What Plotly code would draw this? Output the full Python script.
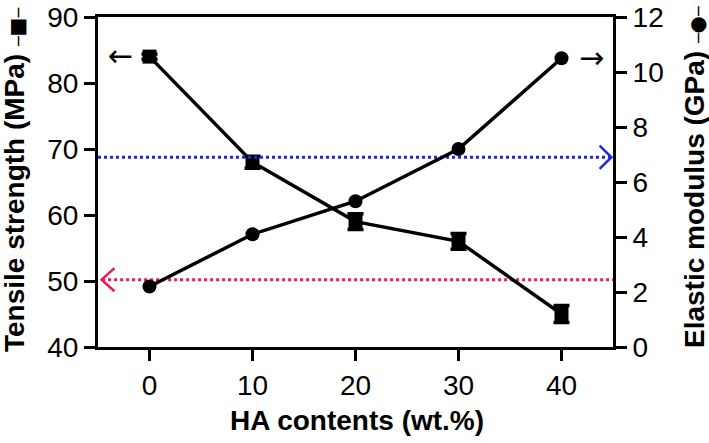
import plotly.graph_objects as go

ha_content = [0, 10, 20, 30, 40]
tensile_strength = [84, 68, 59, 56, 45]
tensile_err = [0.4, 0.9, 1.2, 1.2, 1.3]
elastic_modulus = [2.2, 4.1, 5.3, 7.2, 10.5]
x_ticks = [0, 10, 20, 30, 40]
left_ticks = [40, 50, 60, 70, 80, 90]
right_ticks = [0, 2, 4, 6, 8, 10, 12]
blue_ref_modulus = 6.9
pink_ref_strength = 50.2

FONT = "Liberation Sans, Arial, sans-serif"
BLUE = "#2424e8"
PINK = "#e8195f"

fig = go.Figure()

# reference dotted lines with open arrowheads
fig.add_trace(go.Scatter(x=[-5, 44.8], y=[blue_ref_modulus, blue_ref_modulus], yaxis="y2",
                         mode="lines", line=dict(color=BLUE, width=3, dash="3px,3px"),
                         hoverinfo="skip", showlegend=False))
fig.add_trace(go.Scatter(x=[43.7, 44.85, 43.7], y=[blue_ref_modulus + 0.42, blue_ref_modulus, blue_ref_modulus - 0.42],
                         yaxis="y2", mode="lines", line=dict(color=BLUE, width=2.5),
                         hoverinfo="skip", showlegend=False))
fig.add_trace(go.Scatter(x=[-4.6, 45], y=[pink_ref_strength, pink_ref_strength],
                         mode="lines", line=dict(color=PINK, width=3, dash="3px,3px"),
                         hoverinfo="skip", showlegend=False))
fig.add_trace(go.Scatter(x=[-3.4, -4.65, -3.4], y=[pink_ref_strength + 1.75, pink_ref_strength, pink_ref_strength - 1.75],
                         mode="lines", line=dict(color=PINK, width=2.5),
                         hoverinfo="skip", showlegend=False))

# tensile strength
fig.add_trace(go.Scatter(x=ha_content, y=tensile_strength, mode="lines+markers",
                         line=dict(color="black", width=3.5),
                         marker=dict(symbol="square", size=14, color="black"),
                         error_y=dict(type="data", array=tensile_err, color="black", thickness=3.5, width=8),
                         name="Tensile strength", showlegend=False))
# elastic modulus
fig.add_trace(go.Scatter(x=ha_content, y=elastic_modulus, yaxis="y2", mode="lines+markers",
                         line=dict(color="black", width=3.5),
                         marker=dict(symbol="circle", size=14, color="black"),
                         name="Elastic modulus", showlegend=False))

axis_common = dict(showline=True, linewidth=3, linecolor="black", ticks="outside",
                   ticklen=11, tickwidth=3, tickcolor="black", showgrid=False, zeroline=False,
                   automargin=False,
                   tickfont=dict(family=FONT, size=28, color="black"))

W, H = 709, 443
L, T, PW, PH = 98, 17, 515, 330

MARK_SQ = "<span style='font-family:DejaVu Sans;font-size:16px'>─</span><span style='font-family:DejaVu Sans;font-size:20px'>■</span><span style='font-family:DejaVu Sans;font-size:16px'>─</span>"
MARK_CI = "<span style='font-family:DejaVu Sans;font-size:16px'>─</span><span style='font-family:DejaVu Sans;font-size:20px'>●</span><span style='font-family:DejaVu Sans;font-size:16px'>─</span>"

fig.update_layout(
    width=W, height=H,
    margin=dict(l=L, r=W - L - PW, t=T, b=H - T - PH, autoexpand=False),
    paper_bgcolor="white", plot_bgcolor="white",
    xaxis=dict(range=[-5, 45], tickvals=x_ticks, mirror=True, **axis_common),
    yaxis=dict(range=[40, 90], tickvals=left_ticks, **axis_common),
    yaxis2=dict(range=[0, 12], tickvals=right_ticks, overlaying="y", side="right", **axis_common),
    annotations=[
        dict(text="<b>Tensile strength (MPa) " + MARK_SQ + "</b>",
             textangle=-90, xref="paper", yref="paper",
             x=(14 - L) / PW, y=1 - (180 - T) / PH, xanchor="center", yanchor="middle", showarrow=False,
             font=dict(family=FONT, size=28, color="black")),
        dict(text="<b>Elastic modulus (GPa) " + MARK_CI + "</b>",
             textangle=-90, xref="paper", yref="paper",
             x=(694 - L) / PW, y=1 - (177 - T) / PH, xanchor="center", yanchor="middle", showarrow=False,
             font=dict(family=FONT, size=28, color="black")),
        dict(text="<b>HA contents (wt.%)</b>", xref="paper", yref="paper",
             x=(357 - L) / PW, y=-(420 - T - PH) / PH, xanchor="center", yanchor="middle", showarrow=False,
             font=dict(family=FONT, size=28, color="black")),
        dict(text="←", x=ha_content[0], y=tensile_strength[0], xref="x", yref="y",
             xshift=-29, yshift=1, showarrow=False, font=dict(family="DejaVu Sans", size=30, color="black")),
        dict(text="→", x=ha_content[-1], y=elastic_modulus[-1], xref="x", yref="y2",
             xshift=30, yshift=1, showarrow=False, font=dict(family="DejaVu Sans", size=30, color="black")),
    ],
)

fig.write_html("out.html", config={"displayModeBar": False},
               post_script="document.body.style.margin='0';")
